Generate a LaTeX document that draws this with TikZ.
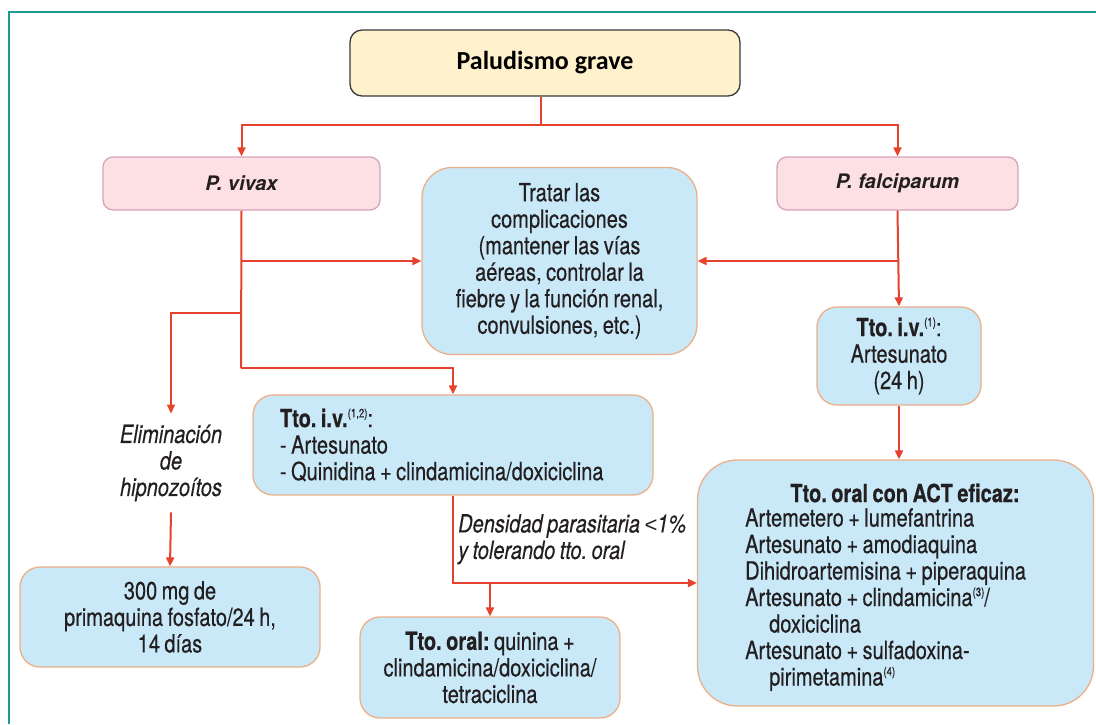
\documentclass[tikz,border=0pt]{standalone}
\usepackage{fontspec}
\setmainfont{TeX Gyre Heros}[FakeStretch=0.8, FakeBold=0.4, WordSpace=0.8]
\newfontfamily\titlefont{Carlito}
\newfontfamily\herosfont{TeX Gyre Heros}
\newfontfamily\libsans{Liberation Sans}
\usetikzlibrary{arrows.meta}
\definecolor{frameteal}{HTML}{1A9A94}
\definecolor{conred}{HTML}{E5432D}
\definecolor{bluefill}{HTML}{C9E9F9}
\definecolor{blueedge}{HTML}{EDAF88}
\definecolor{pinkfill}{HTML}{FCE0E3}
\definecolor{pinkedge}{HTML}{D7A4BC}
\definecolor{yelfill}{HTML}{FEF1CB}
\definecolor{yeledge}{HTML}{3A3A3A}
\definecolor{txt}{HTML}{231F20}
\newcommand\supsc[1]{\raisebox{0.75ex}{\fontsize{12}{12}\selectfont #1}}
\frenchspacing
\tikzset{
  basefont/.style={font=\frenchspacing\fontsize{25}{26.5}\selectfont, text=txt},
  bluebox/.style={basefont, draw=blueedge, fill=bluefill, line width=1.3pt, align=center},
  pinkbox/.style={draw=pinkedge, fill=pinkfill, line width=1.3pt, rounded corners=10pt,
     font=\herosfont\fontsize{20}{24}\selectfont\bfseries\itshape, text=txt},
  conn/.style={draw=conred, line width=2pt},
  arr/.style={conn, -{Triangle[length=9pt,width=8pt]}},
}
\begin{document}
\begin{tikzpicture}[x=1pt,y=-1pt]
\useasboundingbox (0,0) rectangle (1096,724);
\fill[white] (0,0) rectangle (1096,724);
\draw[frameteal, line width=2pt] (9,724) -- (9,12) -- (1096,12);

% nodes
\node[draw=yeledge, fill=yelfill, line width=1.3pt, rounded corners=12pt,
      minimum width=390, minimum height=66, font=\titlefont\fontsize{26}{30}\selectfont\bfseries]
      (pal) at (545,63) {Paludismo grave};
\node[pinkbox, minimum width=277, minimum height=53] (vivax) at (241.5,183.5) {P. vivax};
\node[pinkbox, minimum width=241, minimum height=53] (falc) at (897.5,183.5) {P. falciparum};
\node[bluebox, rounded corners=30pt, minimum width=275, minimum height=187, inner sep=0pt]
      (trat) at (559.5,261) {Tratar las\\complicaciones\\(mantener las vías\\aéreas, controlar la\\fiebre y la función renal,\\convulsiones, etc.)};
\node[bluebox, rounded corners=20pt, minimum width=164, minimum height=98, inner sep=0pt]
      (tiv1) at (899,356) {\textbf{Tto. i.v.}\supsc{(1)}:\\Artesunato\\(24 h)};
\node[bluebox, rounded corners=20pt, minimum width=400, minimum height=100, inner xsep=27pt,
      text width=346pt, align=flush left]
      (tiv12) at (453,445) {\textbf{Tto. i.v.}\supsc{(1,2)}:\\- Artesunato\\- Quinidina + clindamicina/doxiciclina};
\node[basefont, align=center, inner xsep=0pt, inner ysep=11pt, font=\fontsize{25}{26.5}\selectfont\itshape]
      (elim) at (171,463) {Eliminación\\de\\hipnozoítos};
\node[bluebox, rounded corners=20pt, minimum width=300, minimum height=100, inner sep=0pt]
      (mg) at (170,617) {300 mg de\\primaquina fosfato/24 h,\\14 días};
\node[bluebox, rounded corners=20pt, minimum width=260, minimum height=101, inner sep=0pt]
      (toral) at (490,667.5) {\textbf{Tto. oral:} quinina +\\clindamicina/doxiciclina/\\tetraciclina};
\node[bluebox, rounded corners=40pt, minimum width=396, minimum height=246, inner sep=0pt]
      (act) at (895.5,583) {};
\node[basefont, font=\frenchspacing\fontsize{25}{26.5}\selectfont\bfseries, inner sep=0pt]
      (acttitle) at (905,493) {Tto. oral con ACT eficaz:};
\node[basefont, align=left, anchor=north west, inner sep=0pt]
      (actlist) at (745,508) {Artemetero + lumefantrina\\Artesunato + amodiaquina\\Dihidroartemisina + piperaquina\\Artesunato + clindamicina\supsc{(3)}/\\\hspace*{24pt}doxiciclina\\Artesunato + sulfadoxina-\\\hspace*{24pt}pirimetamina\supsc{(4)}};
\node[basefont, font=\frenchspacing\fontsize{25}{26.5}\selectfont\itshape, align=left, anchor=north west, inner sep=0pt]
      (dens) at (458,514) {Densidad parasitaria {\libsans\fontsize{22}{26}\selectfont <}1\%\\y tolerando tto. oral};

% junction coordinates
\coordinate (j0) at (541,125);
\coordinate (v1) at (241,261);
\coordinate (v2) at (241,313);
\coordinate (v3) at (241,368);
\coordinate (f1) at (898,261);
\coordinate (c1) at (453,583);

% connectors
\draw[conn] (pal.south -| j0) -- (j0);
\draw[arr] (j0) -| (vivax.north);
\draw[arr] (j0) -| (falc.north);
\draw[conn] (vivax.south) -- (v3);
\draw[arr] (v1) -- (trat.west);
\draw[arr] (v2) -| (elim.north);
\draw[arr] (v3) -| (tiv12.north);
\draw[arr] (elim.south) -- (mg.north);
\draw[arr] (falc.south) -- (tiv1.north);
\draw[arr] (f1) -- (trat.east);
\draw[arr] (tiv1.south) -- (tiv1.south |- act.north);
\draw[arr] (tiv12.south) |- (act.west);
\draw[arr] (toral.north |- c1) -- (toral.north);
\end{tikzpicture}
\end{document}
